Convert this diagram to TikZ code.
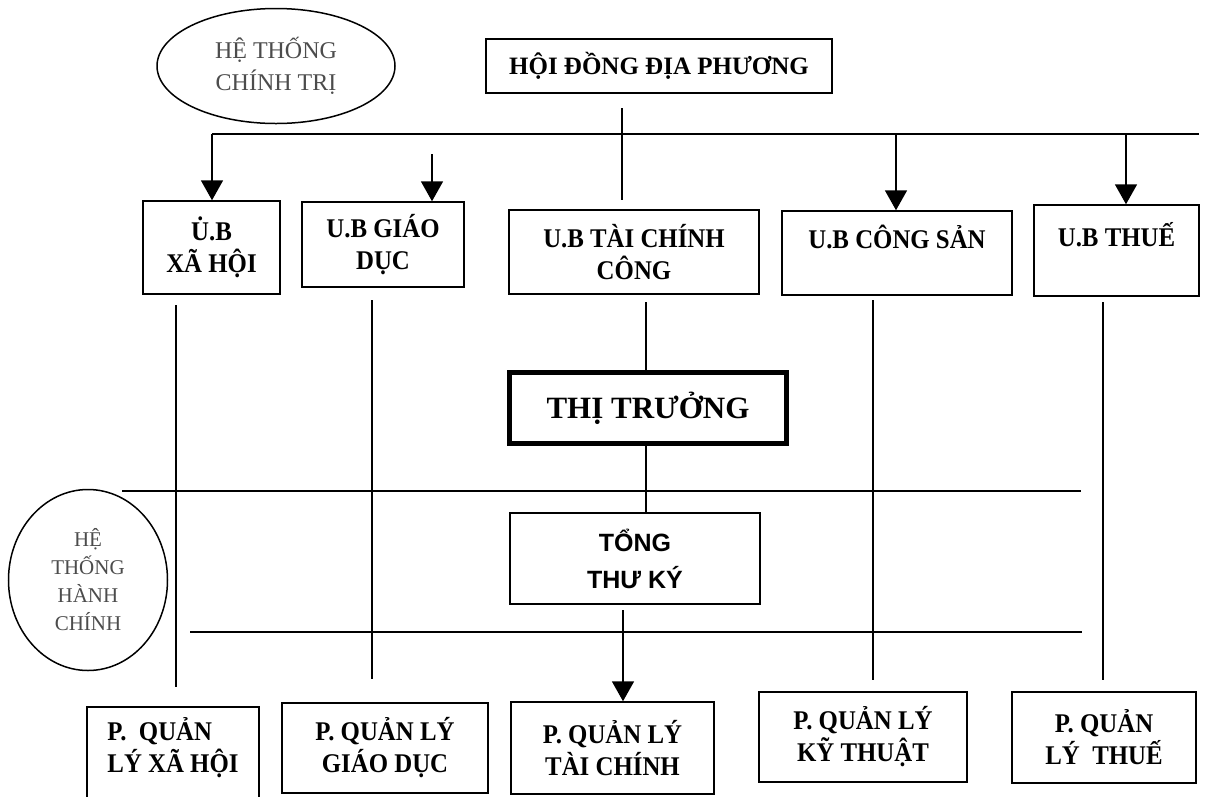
\documentclass[tikz,border=0pt]{standalone}
\usepackage{fontspec}
\setmainfont{Liberation Serif}
\newfontfamily\sansbf{Liberation Sans}
\newfontfamily\condser[FakeStretch=0.92]{Liberation Serif}
\usetikzlibrary{arrows.meta,shapes.geometric,calc}
\begin{document}
\begin{tikzpicture}[x=1pt,y=-1pt,
  box/.style={draw,line width=1.5pt,rectangle,inner sep=0pt,align=center,
    font=\condser\fontsize{27}{32}\selectfont\bfseries},
  conn/.style={line width=1.8pt},
  arr/.style={line width=1.8pt,-{Triangle[length=20pt,width=22pt]}},
  oval/.style={draw,line width=1.5pt,ellipse,inner sep=0pt,align=center,text=black!70}]
\path[use as bounding box] (0,0) rectangle (1208,796);
\clip (0,0) rectangle (1208,796);
\fill[white] (0,0) rectangle (1208,796);

% ovals
\node[oval,minimum width=238pt,minimum height=115pt,font=\fontsize{24}{32}\selectfont] (ht1) at (276,66) {HỆ THỐNG\\CHÍNH TRỊ};
\node[oval,minimum width=159pt,minimum height=181pt,font=\fontsize{21}{28}\selectfont] (ht2) at (88,580) {HỆ\\THỐNG\\HÀNH\\CHÍNH};

% top
\node[box,minimum width=346pt,minimum height=54pt,font=\fontsize{25}{32}\selectfont\bfseries] (hd) at (659,66) {HỘI ĐỒNG ĐỊA PHƯƠNG};

% committees
\node[box,minimum width=137pt,minimum height=93pt] (ubxh) at (211.5,247.5) {U̇.B\\XÃ HỘI};
\node[box,minimum width=162pt,minimum height=85pt] (ubgd) at (383,244.5) {U.B GIÁO\\DỤC};
\node[box,minimum width=250pt,minimum height=84pt] (ubtc) at (634,252) {U.B TÀI CHÍNH\\CÔNG};
\node[box,minimum width=230pt,minimum height=84pt] (ubcs) at (897,253) {U.B CÔNG SẢN\\~};
\node[box,minimum width=165pt,minimum height=91pt] (ubth) at (1116.5,250.5) {U.B THUẾ\\~};

% mayor and secretary
\node[box,line width=5pt,minimum width=277pt,minimum height=71pt,font=\fontsize{31}{36}\selectfont\bfseries] (tt) at (648,408) {THỊ TRƯỞNG};
\node[box,minimum width=250pt,minimum height=91pt,font=\fontsize{25}{37}\selectfont\sansbf\bfseries] (tk) at (635,558.5) {TỔNG\\THƯ KÝ};

% departments
\node[box,minimum width=172pt,minimum height=108pt,align=left] (pxh) at (173,761) {P.~~QUẢN\\LÝ XÃ HỘI\\~};
\node[box,minimum width=206pt,minimum height=90pt] (pgd) at (385,748) {P. QUẢN LÝ\\GIÁO DỤC};
\node[box,minimum width=203pt,minimum height=92pt] (ptc) at (612.5,748) {P. QUẢN LÝ\\TÀI CHÍNH};
\node[box,minimum width=208pt,minimum height=90pt] (pkt) at (863,737) {P. QUẢN LÝ\\KỸ THUẬT};
\node[box,minimum width=184pt,minimum height=91pt] (pth) at (1104,737.5) {P. QUẢN\\LÝ~~THUẾ};

% free line ends
\coordinate (hdA) at (622,108);
\coordinate (hdB) at (622,200);
\coordinate (busL) at (212,134);
\coordinate (busR) at (1199,134);
\coordinate (gdA) at (432,154);
\coordinate (csA) at (896,134);
\coordinate (thA) at (1126,134);
\coordinate (xhA) at (176,305);
\coordinate (xhB) at (176,687);
\coordinate (gdB) at (372,300);
\coordinate (gdC) at (372,679);
\coordinate (csB) at (873,300);
\coordinate (csC) at (873,680);
\coordinate (thB) at (1103,302);
\coordinate (thC) at (1103,680);
\coordinate (tcA) at (646,302);
\coordinate (tkA) at (623,610);
\coordinate (h1L) at (122,491);
\coordinate (h1R) at (1081,491);
\coordinate (h2L) at (190,632);
\coordinate (h2R) at (1082,632);

% connectors
\draw[conn] (hdA) -- (hdB);
\draw[conn] (busL) -- (busR);
\draw[arr] (busL) -- (ubxh.north -| busL);
\draw[arr] (gdA) -- (gdA |- ubgd.north);
\draw[arr] (csA) -- (csA |- ubcs.north);
\draw[arr] (thA) -- (thA |- ubth.north);
\draw[conn] (xhA) -- (xhB);
\draw[conn] (gdB) -- (gdC);
\draw[conn] (csB) -- (csC);
\draw[conn] (thB) -- (thC);
\draw[conn] (tcA) -- (tcA |- tt.north);
\draw[conn] (tcA |- tt.south) -- (tcA |- tk.north);
\draw[arr] (tkA) -- (tkA |- ptc.north);
\draw[conn] (h1L) -- (h1R);
\draw[conn] (h2L) -- (h2R);
\end{tikzpicture}
\end{document}
